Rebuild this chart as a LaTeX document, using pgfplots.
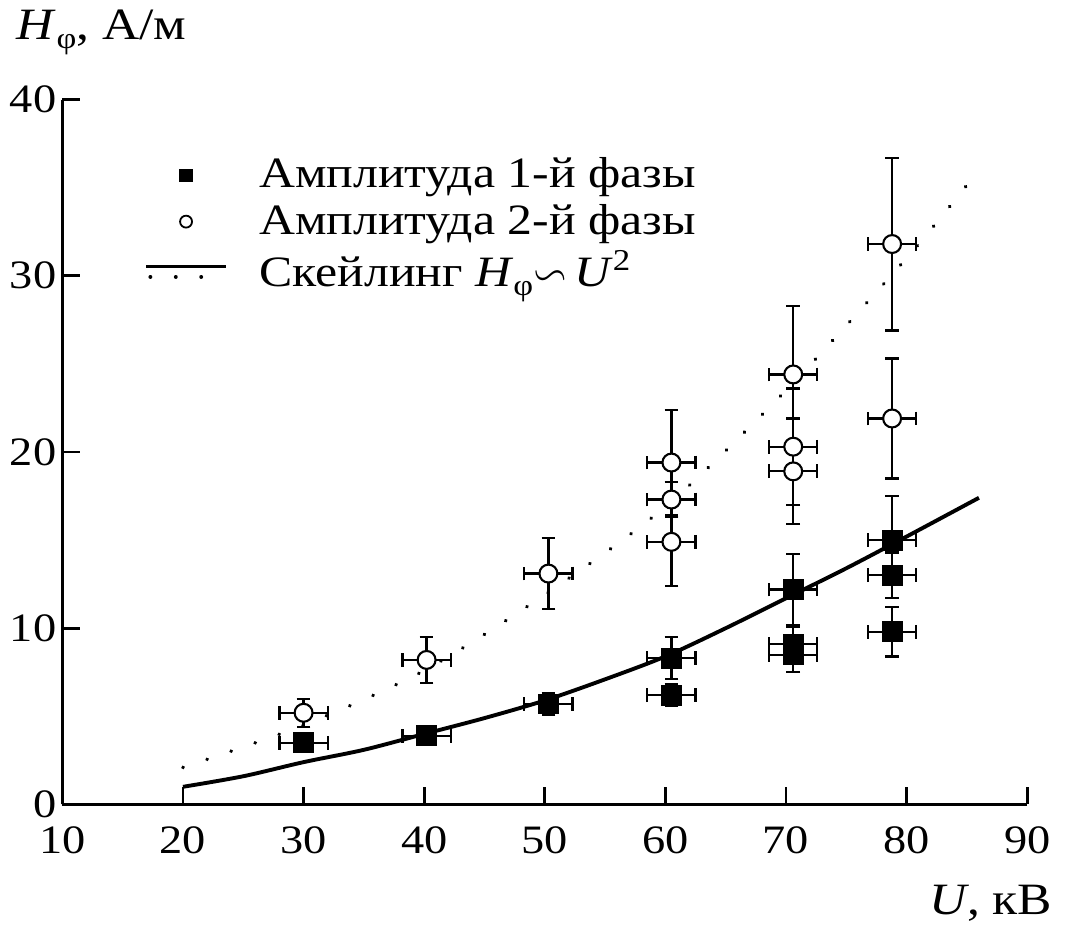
\documentclass[border=0pt]{standalone}
\usepackage{amssymb}
\usepackage{pgfplots}
\pgfplotsset{compat=1.18}
\usepackage{fontspec}
\setmainfont{Liberation Serif}[FakeStretch=1.15]

\pgfplotstableread{
x     y     ex  ey
30.0  3.5   2.0 0.4
40.2  3.9   2.0 0.5
50.3  5.7   2.0 0.6
60.5  8.3   2.0 1.2
60.5  6.2   2.0 0.6
70.6  12.2  2.0 2.0
70.6  9.1   2.0 1.0
70.6  8.5   2.0 1.0
78.8  15.0  2.0 2.5
78.8  13.0  2.0 1.3
78.8  9.8   2.0 1.4
}\phaseone

\pgfplotstableread{
x     y     ex  ey
30.0  5.2   2.0 0.8
40.2  8.2   2.0 1.3
50.3  13.1  2.0 2.0
60.5  19.4  2.0 3.0
60.5  17.3  2.0 1.0
60.5  14.9  2.0 2.5
70.6  24.4  2.0 3.9
70.6  20.3  2.0 3.3
70.6  18.9  2.0 3.0
78.8  31.8  2.0 4.9
78.8  21.9  2.0 3.4
}\phasetwo

\begin{document}
\begin{tikzpicture}
\begin{axis}[
  width=323pt, height=236pt, scale only axis,
  xmin=10, xmax=90, ymin=0, ymax=40,
  axis lines*=left,
  tick align=inside,
  axis line style={line width=1pt},
  xtick={10,20,...,90}, ytick={0,10,...,40},
  major tick length=6pt,
  tick style={line width=0.9pt, black},
  /pgf/number format/assume math mode=true,
  tick label style={font=\fontsize{13.5}{16}\selectfont},
  xticklabel style={yshift=-4pt},
  yticklabel style={xshift=1.5pt},
  clip=false,
  xlabel={\textit{U}, кВ},
  ylabel={\textit{H}\raisebox{-0.45ex}{\fontsize{10}{11}\selectfont φ}, А/м},
  xlabel style={at={(rel axis cs:1.037,-0.14)}, anchor=east, font=\fontsize{15}{18}\selectfont},
  ylabel style={at={(rel axis cs:-0.058,1.095)}, rotate=-90, anchor=west, font=\fontsize{15}{18}\selectfont},
  legend style={at={(rel axis cs:0.075,0.935)}, anchor=north west, draw=none, fill=none,
    font=\fontsize{14.5}{17}\selectfont, row sep=0pt, legend cell align=left,
    /tikz/every even column/.append style={column sep=0pt}},
  legend image code/.code={\path[draw=none] (0cm,0cm) (1.26cm,0cm); \draw[#1] plot coordinates {(0.47cm,0cm)};},
  error bars/error bar style={line width=0.75pt, black},
  error bars/error mark options={rotate=90, mark size=2.3pt, line width=0.75pt, black},
]
\addlegendimage{only marks, mark=square*, mark size=2pt, black}
\addlegendentry{Амплитуда 1-й фазы}
\addlegendimage{only marks, mark=o, mark size=2pt, black, line width=0.6pt}
\addlegendentry{Амплитуда 2-й фазы}
\addlegendimage{legend image code/.code={
  \path[draw=none] (0cm,0cm) (1.26cm,0cm);
  \draw[line width=1.2pt] (0cm,0.05cm) -- (0.94cm,0.05cm);
  \draw[line width=1.3pt, line cap=round, dash pattern=on 0.01pt off 8.5pt] (0.05cm,-0.07cm) -- (0.94cm,-0.07cm);}}
\addlegendentry{Скейлинг \textit{H}\raisebox{-0.45ex}{\fontsize{10}{11}\selectfont φ}$\backsim$\,\textit{U}\textsuperscript{2}}

% dotted scaling curve
\addplot[forget plot, black, line width=1.3pt, line cap=round, dash pattern=on 0.01pt off 8.5pt, smooth]
  coordinates {(20,2.1) (30,4.5) (40,7.6) (50,11.9) (60,16.9) (70,23.5) (80,31.0) (85.3,35.4)};
% solid scaling curve
\addplot[forget plot, black, line width=1.3pt, smooth]
  coordinates {(20,1.0) (25,1.6) (30,2.4) (35,3.1) (40,4.0) (45,4.9) (50,5.9) (55,7.1) (60,8.4) (65,10.0) (70,11.7) (75,13.4) (80,15.2) (86,17.4)};

% phase 2 (open circles)
\addplot[forget plot, only marks, mark=*, mark size=3pt, mark options={fill=white, draw=black, line width=0.7pt},
  error bars/.cd, x dir=both, x explicit, y dir=both, y explicit]
  table[x=x, y=y, x error=ex, y error=ey] {\phasetwo};
% phase 1 (filled squares)
\addplot[forget plot, only marks, mark=square*, mark size=3.3pt, mark options={fill=black, draw=black},
  error bars/.cd, x dir=both, x explicit, y dir=both, y explicit]
  table[x=x, y=y, x error=ex, y error=ey] {\phaseone};

\path (rel axis cs:-0.0588,-0.1805) rectangle (rel axis cs:1.0423,1.1368);
\end{axis}
\end{tikzpicture}
\end{document}
